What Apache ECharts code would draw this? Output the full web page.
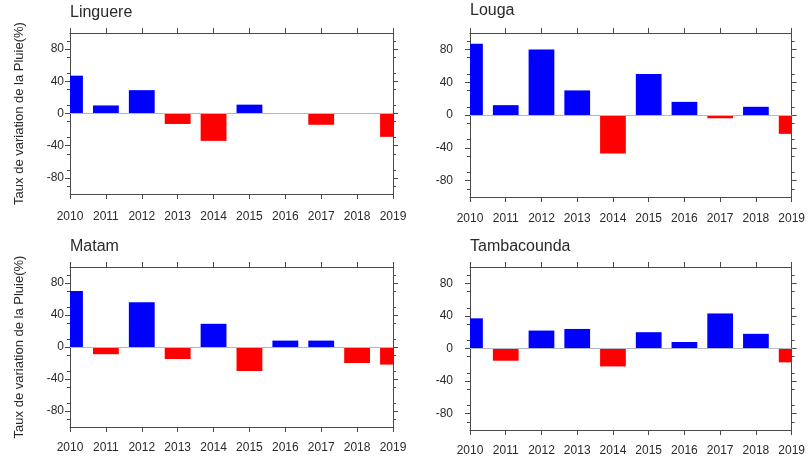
<!DOCTYPE html>
<html>
<head>
<meta charset="utf-8">
<script src="https://cdn.jsdelivr.net/npm/echarts@6/dist/echarts.min.js"></script>
<style>
  html, body { margin: 0; padding: 0; background: #ffffff; }
  #chart { width: 808px; height: 462px; }
</style>
</head>
<body>
<div id="chart"></div>
<script>
// Rainfall variation rate (%) per year, four stations
const years = [2010, 2011, 2012, 2013, 2014, 2015, 2016, 2017, 2018, 2019];
const stationNames = ['Linguere', 'Louga', 'Matam', 'Tambacounda'];
const linguere    = [47, 10, 29, -13, -34, 11, 0, -14, 0, -29];
const louga       = [87, 12, 80, 30, -47, 50, 16, -4, 10, -23];
const matam       = [70, -9, 56, -15, 29, -30, 8, 8, -20, -22];
const tambacounda = [37, -15, 22, 24, -22, 20, 8, 43, 18, -17];
const yTickLabels = [-80, -40, 0, 40, 80];
const yAxisTitle = 'Taux de variation de la Pluie(%)';

const stationValues = [linguere, louga, matam, tambacounda];

const POS = '#0000ff';
const NEG = '#ff0000';
const AXIS_COLOR = '#4a4a4a';
const TEXT_COLOR = '#2a2a2a';
const FONT = 'Liberation Sans, Arial, sans-serif';
const BAR_FRACTION = 0.72; // bar width as a share of one year step

// panel layout: [left, top, width, height, xLabelMargin, yLabelMargin, showYName]
const layout = [
  [70, 33, 323, 161, 17, 6, true],
  [470, 33, 329, 164, 16, 17, false],
  [70, 267, 323, 160, 15, 6, true],
  [470, 267, 329, 163, 15, 17, false]
];
const titleTops = [5, 3, 239, 239];

// Bars centred on each year, clipped to the plot frame so edge years show half bars
function renderBar(params, api) {
  const x = api.value(0);
  const v = api.value(1);
  const p0 = api.coord([x, 0]);
  const p1 = api.coord([x, v]);
  const w = api.size([1, 0])[0] * BAR_FRACTION;
  const cs = params.coordSys;
  const rect = echarts.graphic.clipRectByRect(
    { x: p0[0] - w / 2, y: Math.min(p0[1], p1[1]), width: w, height: Math.abs(p1[1] - p0[1]) },
    { x: cs.x, y: cs.y, width: cs.width, height: cs.height }
  );
  if (!rect || rect.height <= 0) return null;
  return { type: 'rect', shape: rect, style: { fill: v >= 0 ? POS : NEG } };
}

const grids = [], xAxes = [], yAxes = [], series = [], titles = [];

layout.forEach((L, i) => {
  const [left, top, width, height, xMargin, yMargin, showName] = L;
  grids.push({ left, top, width, height, containLabel: false });

  titles.push({
    text: stationNames[i],
    left: left,
    top: titleTops[i],
    padding: 0,
    textStyle: { fontFamily: FONT, fontSize: 16, fontWeight: 'normal', color: TEXT_COLOR }
  });

  const xCommon = {
    type: 'value', gridIndex: i, min: 2010, max: 2019, interval: 1,
    axisLine: { show: true, onZero: false, lineStyle: { color: AXIS_COLOR, width: 1 } },
    axisTick: { show: true, inside: false, length: 5, lineStyle: { color: AXIS_COLOR } },
    splitLine: { show: false }
  };
  xAxes.push(Object.assign({}, xCommon, {
    position: 'bottom',
    axisLabel: {
      show: true, margin: xMargin, formatter: v => String(v),
      fontFamily: FONT, fontSize: 12, color: TEXT_COLOR
    }
  }));
  xAxes.push(Object.assign({}, xCommon, {
    position: 'top',
    axisLabel: { show: false }
  }));

  const yCommon = {
    type: 'value', gridIndex: i, min: -100, max: 100, interval: 20,
    axisLine: { show: true, onZero: false, lineStyle: { color: AXIS_COLOR, width: 1 } },
    axisTick: { show: true, inside: false, length: 5, customValues: yTickLabels, lineStyle: { color: AXIS_COLOR } },
    minorTick: { show: true, splitNumber: 2, length: 3, lineStyle: { color: AXIS_COLOR } },
    splitLine: { show: false }
  };
  yAxes.push(Object.assign({}, yCommon, {
    position: 'left',
    name: showName ? yAxisTitle : '',
    nameLocation: 'middle',
    nameGap: 44,
    nameTextStyle: { fontFamily: FONT, fontSize: 13, color: TEXT_COLOR },
    axisLabel: {
      show: true, margin: yMargin, customValues: yTickLabels,
      fontFamily: FONT, fontSize: 12, color: TEXT_COLOR
    }
  }));
  yAxes.push(Object.assign({}, yCommon, {
    position: 'right',
    axisLabel: { show: false }
  }));

  series.push({
    type: 'custom',
    xAxisIndex: i * 2,
    yAxisIndex: i * 2,
    renderItem: renderBar,
    encode: { x: 0, y: 1 },
    data: years.map((y, k) => [y, stationValues[i][k]])
  });
  // zero reference line
  series.push({
    type: 'line',
    xAxisIndex: i * 2,
    yAxisIndex: i * 2,
    data: [],
    markLine: {
      silent: true,
      symbol: 'none',
      label: { show: false },
      lineStyle: { color: '#b4b9c6', type: 'solid', width: 1 },
      data: [{ yAxis: 0 }]
    }
  });
});

const chart = echarts.init(document.getElementById('chart'), null, { renderer: 'canvas' });
chart.setOption({
  animation: false,
  backgroundColor: '#ffffff',
  title: titles,
  grid: grids,
  xAxis: xAxes,
  yAxis: yAxes,
  series: series
});
</script>
</body>
</html>
